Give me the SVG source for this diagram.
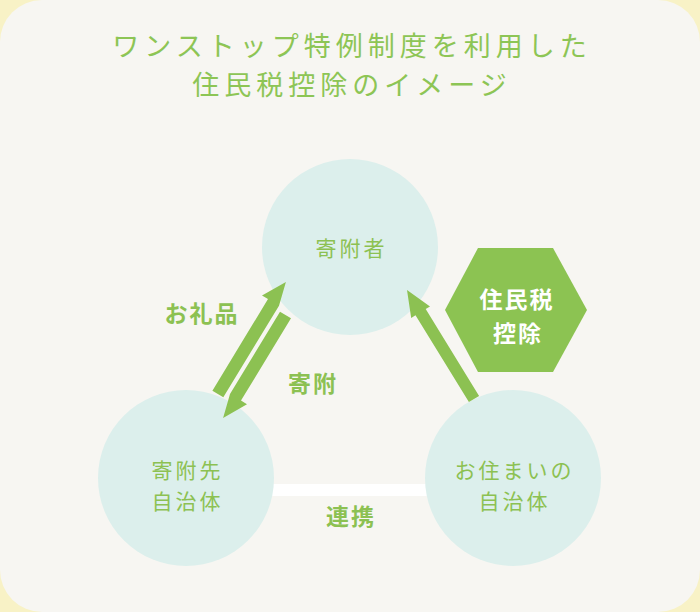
<svg xmlns="http://www.w3.org/2000/svg" width="700" height="612" viewBox="0 0 700 612">
<style>
.t{font-family:"Noto Sans CJK JP","Noto Sans",sans-serif;text-anchor:middle}
.title{font-size:27px;fill:#8dc555;letter-spacing:5px}
.ct{font-size:21px;fill:#8cc152;letter-spacing:3px}
.bl{font-size:23px;font-weight:bold;fill:#8cc152;letter-spacing:2px}
.hx{font-size:23px;font-weight:bold;fill:#ffffff;letter-spacing:2px}
.circ{fill:#dcefec}
.arr{fill:#8cc152}
</style>
<rect x="0" y="0" width="700" height="612" fill="#f8f2c6"/>
<rect x="0" y="0" width="700" height="612" rx="42" ry="42" fill="#f7f6f2"/>
<g id="title">
<text class="t title" x="352" y="56">ワンストップ特例制度を利用した</text>
<text class="t title" x="352" y="95">住民税控除のイメージ</text>
</g>
<rect id="link-band" x="260" y="484" width="180" height="12" fill="#ffffff"/>
<g id="node-donor">
<circle class="circ" cx="350" cy="247" r="88"/>
<text class="t ct" x="351.5" y="256">寄附者</text>
</g>
<g id="node-dest">
<circle class="circ" cx="186" cy="478" r="88"/>
<text class="t ct" x="187.5" y="478">寄附先</text>
<text class="t ct" x="187.5" y="509">自治体</text>
</g>
<g id="node-home">
<circle class="circ" cx="513" cy="478" r="88"/>
<text class="t ct" x="514.5" y="478">お住まいの</text>
<text class="t ct" x="514.5" y="509">自治体</text>
</g>
<g id="connectors">
<polygon class="arr" points="285.9,281.9 262.0,295.4 268.0,299.1 212.4,390.7 223.3,397.3 279.0,305.7"/>
<polygon class="arr" points="280.0,311.7 291.0,318.3 241.0,400.6 247.0,404.3 223.1,417.9 230.0,394.0"/>
<polygon class="arr" points="407,290 430.0,306.4 425.7,309.1 479.1,395.9 468.9,402.1 415.5,315.3 411.2,318.0"/>
</g>
<g id="label-gift"><text class="t bl" x="202" y="322">お礼品</text></g>
<g id="label-donation"><text class="t bl" x="313" y="392">寄附</text></g>
<g id="label-link"><text class="t bl" x="351" y="525">連携</text></g>
<g id="node-deduction">
<polygon points="445,310 478,248 553,248 587,310 553,372 478,372" fill="#8cc352"/>
<text class="t hx" x="517" y="308">住民税</text>
<text class="t hx" x="518" y="341.5">控除</text>
</g>
</svg>
